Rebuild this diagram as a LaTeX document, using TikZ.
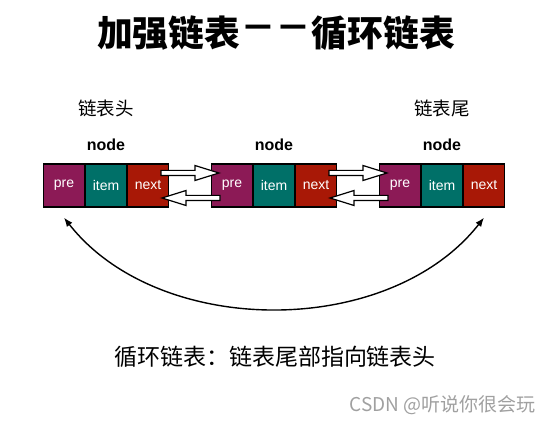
\documentclass[tikz,border=0pt]{standalone}
\usepackage{fontspec}
\usepackage{graphicx}
\setmainfont{Liberation Sans}
\newfontfamily\cjk{Noto Sans CJK SC}
\usetikzlibrary{shapes,positioning,calc,arrows.meta}
\definecolor{prec}{RGB}{140,26,86}
\definecolor{itemc}{RGB}{0,112,104}
\definecolor{nextc}{RGB}{168,24,6}
\definecolor{markc}{RGB}{160,160,160}
\newcommand{\gapdash}{\makebox[1em]{\raisebox{0.26em}{\scalebox{0.85}[1]{—}}}}

\begin{document}
\begin{tikzpicture}[x=1pt,y=-1pt]
\tikzstyle{cell}=[rectangle split, rectangle split horizontal, rectangle split parts=3, draw, line width=1.3pt,
  rectangle split part fill={prec,itemc,nextc}, text=white, text width=38.7pt, align=center,
  inner xsep=1pt, minimum height=43pt, font=\fontsize{14}{16}\selectfont]
\tikzstyle{lbl}=[font=\fontsize{16}{18}\selectfont\bfseries]
\tikzstyle{hollow}=[draw, fill=white, line width=1.2pt, line join=miter,
  to path={($(\tikztostart)+(0pt,2.6pt)$) -- ($(\tikztotarget)!24pt!(\tikztostart)+(0pt,2.6pt)$)
    -- ($(\tikztotarget)!24pt!(\tikztostart)+(0pt,7.5pt)$) -- (\tikztotarget)
    -- ($(\tikztotarget)!24pt!(\tikztostart)+(0pt,-7.5pt)$) -- ($(\tikztotarget)!24pt!(\tikztostart)+(0pt,-2.6pt)$)
    -- ($(\tikztostart)+(0pt,-2.6pt)$) -- cycle}]
\useasboundingbox (0,0) rectangle (555,425);

% title
\node (title) at (276,33) {\cjk\fontsize{35.8}{40}\selectfont\bfseries 加强链表\gapdash\gapdash 循环链表};

% the three nodes
\node[cell] (n1) at (106,185.5) {pre \nodepart{two} item \nodepart{three} next};
\node[cell, right=42pt of n1] (n2) {pre \nodepart{two} item \nodepart{three} next};
\node[cell, right=42pt of n2] (n3) {pre \nodepart{two} item \nodepart{three} next};

\node[lbl] (l1) at (n1 |- 0,145) {node};
\node[lbl] (l2) at (n2 |- 0,145) {node};
\node[lbl] (l3) at (n3 |- 0,145) {node};
\node[font=\cjk\fontsize{18.5}{21}\selectfont] (head) at (n1 |- 0,108) {链表头};
\node[font=\cjk\fontsize{18.5}{21}\selectfont] (tail) at (n3 |- 0,108) {链表尾};

% next / pre links
\draw[hollow] ([shift={(-8pt,12.5pt)}]n1.east) to ([shift={(8pt,12.5pt)}]n2.west);
\draw[hollow] ([shift={(9pt,-12.5pt)}]n2.west) to ([shift={(-7pt,-12.5pt)}]n1.east);
\draw[hollow] ([shift={(-8pt,12.5pt)}]n2.east) to ([shift={(8pt,12.5pt)}]n3.west);
\draw[hollow] ([shift={(9pt,-12.5pt)}]n3.west) to ([shift={(-7pt,-12.5pt)}]n2.east);

% tail back to head
\draw[{Latex[length=9pt,width=7pt]}-{Latex[length=9pt,width=7pt]}, line width=1.4pt]
  ([yshift=-10pt]n1.one south) .. controls +(95,121) and +(-95,121) .. ([yshift=-10pt]n3.three south);

\node[font=\cjk\fontsize{23}{26}\selectfont] (note) at (275,357) {循环链表：链表尾部指向链表头};
\node[anchor=east, text=markc, font=\cjk\fontsize{19}{21}\selectfont] (mark) at (539,405) {CSDN @听说你很会玩};
\end{tikzpicture}
\end{document}
